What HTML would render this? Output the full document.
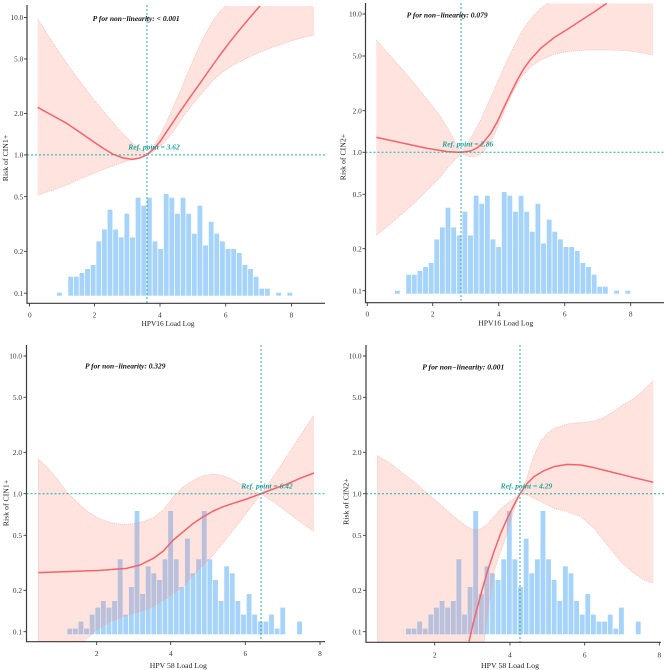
<!DOCTYPE html>
<html><head><meta charset="utf-8"><style>
html,body{margin:0;padding:0;background:#fff;}
svg{display:block;}
text{font-family:"Liberation Serif",serif;}
.tk{font-size:7.3px;fill:#333;}
.tt{font-size:7.8px;fill:#222;}
.pt{font-size:7.2px;font-weight:bold;font-style:italic;fill:#111;}
.rf{font-size:7.2px;font-weight:bold;font-style:italic;fill:#1fa39a;}
</style></head><body>
<svg width="669" height="670" viewBox="0 0 669 670" xmlns="http://www.w3.org/2000/svg">
<defs>
<g id="hA" fill="#a6d3fa">
<rect x="57.00" y="292.7" width="4.85" height="3.0"/>
<rect x="68.24" y="276.7" width="4.85" height="19.0"/>
<rect x="73.86" y="276.7" width="4.85" height="19.0"/>
<rect x="79.48" y="273.0" width="4.85" height="22.7"/>
<rect x="85.10" y="269.0" width="4.85" height="26.7"/>
<rect x="90.72" y="265.0" width="4.85" height="30.7"/>
<rect x="96.34" y="241.4" width="4.85" height="54.3"/>
<rect x="101.96" y="229.4" width="4.85" height="66.3"/>
<rect x="107.58" y="209.7" width="4.85" height="86.0"/>
<rect x="113.20" y="229.4" width="4.85" height="66.3"/>
<rect x="118.82" y="237.4" width="4.85" height="58.3"/>
<rect x="124.44" y="213.7" width="4.85" height="82.0"/>
<rect x="130.06" y="237.4" width="4.85" height="58.3"/>
<rect x="135.68" y="197.7" width="4.85" height="98.0"/>
<rect x="141.30" y="205.7" width="4.85" height="90.0"/>
<rect x="146.92" y="197.7" width="4.85" height="98.0"/>
<rect x="152.54" y="241.4" width="4.85" height="54.3"/>
<rect x="158.16" y="249.0" width="4.85" height="46.7"/>
<rect x="163.78" y="194.0" width="4.85" height="101.7"/>
<rect x="169.40" y="197.7" width="4.85" height="98.0"/>
<rect x="175.02" y="213.7" width="4.85" height="82.0"/>
<rect x="180.64" y="197.7" width="4.85" height="98.0"/>
<rect x="186.26" y="213.7" width="4.85" height="82.0"/>
<rect x="191.88" y="233.7" width="4.85" height="62.0"/>
<rect x="197.50" y="205.7" width="4.85" height="90.0"/>
<rect x="203.12" y="245.4" width="4.85" height="50.3"/>
<rect x="208.74" y="221.7" width="4.85" height="74.0"/>
<rect x="214.36" y="233.7" width="4.85" height="62.0"/>
<rect x="219.98" y="241.4" width="4.85" height="54.3"/>
<rect x="225.60" y="249.0" width="4.85" height="46.7"/>
<rect x="231.22" y="249.0" width="4.85" height="46.7"/>
<rect x="236.84" y="253.0" width="4.85" height="42.7"/>
<rect x="242.46" y="265.0" width="4.85" height="30.7"/>
<rect x="248.08" y="269.0" width="4.85" height="26.7"/>
<rect x="253.70" y="276.7" width="4.85" height="19.0"/>
<rect x="259.32" y="288.7" width="4.85" height="7.0"/>
<rect x="264.94" y="288.7" width="4.85" height="7.0"/>
<rect x="276.18" y="292.7" width="4.85" height="3.0"/>
<rect x="287.42" y="292.7" width="4.85" height="3.0"/>
</g>
<g id="hB" fill="#a6d3fa">
<rect x="67.30" y="628.6" width="4.85" height="5.7"/>
<rect x="72.91" y="628.6" width="4.85" height="5.7"/>
<rect x="78.51" y="621.6" width="4.85" height="12.7"/>
<rect x="84.12" y="628.6" width="4.85" height="5.7"/>
<rect x="89.72" y="614.6" width="4.85" height="19.7"/>
<rect x="95.33" y="607.6" width="4.85" height="26.7"/>
<rect x="100.93" y="601.0" width="4.85" height="33.3"/>
<rect x="106.54" y="607.6" width="4.85" height="26.7"/>
<rect x="112.14" y="601.0" width="4.85" height="33.3"/>
<rect x="117.75" y="559.3" width="4.85" height="75.0"/>
<rect x="123.35" y="614.6" width="4.85" height="19.7"/>
<rect x="128.96" y="587.0" width="4.85" height="47.3"/>
<rect x="134.56" y="511.0" width="4.85" height="123.3"/>
<rect x="140.17" y="594.0" width="4.85" height="40.3"/>
<rect x="145.77" y="566.3" width="4.85" height="68.0"/>
<rect x="151.38" y="573.3" width="4.85" height="61.0"/>
<rect x="156.98" y="580.0" width="4.85" height="54.3"/>
<rect x="162.59" y="559.3" width="4.85" height="75.0"/>
<rect x="168.19" y="511.0" width="4.85" height="123.3"/>
<rect x="173.80" y="559.3" width="4.85" height="75.0"/>
<rect x="179.40" y="587.0" width="4.85" height="47.3"/>
<rect x="185.01" y="538.6" width="4.85" height="95.7"/>
<rect x="190.61" y="573.3" width="4.85" height="61.0"/>
<rect x="196.22" y="559.3" width="4.85" height="75.0"/>
<rect x="201.82" y="511.0" width="4.85" height="123.3"/>
<rect x="207.43" y="559.3" width="4.85" height="75.0"/>
<rect x="213.03" y="580.0" width="4.85" height="54.3"/>
<rect x="218.64" y="601.0" width="4.85" height="33.3"/>
<rect x="224.24" y="566.3" width="4.85" height="68.0"/>
<rect x="229.85" y="573.3" width="4.85" height="61.0"/>
<rect x="235.45" y="601.0" width="4.85" height="33.3"/>
<rect x="241.06" y="614.6" width="4.85" height="19.7"/>
<rect x="246.66" y="594.0" width="4.85" height="40.3"/>
<rect x="252.27" y="614.6" width="4.85" height="19.7"/>
<rect x="257.87" y="621.6" width="4.85" height="12.7"/>
<rect x="263.48" y="621.6" width="4.85" height="12.7"/>
<rect x="269.08" y="614.6" width="4.85" height="19.7"/>
<rect x="274.69" y="628.6" width="4.85" height="5.7"/>
<rect x="280.29" y="607.6" width="4.85" height="26.7"/>
<rect x="297.11" y="621.6" width="4.85" height="12.7"/>
</g>
</defs>

<use href="#hA"/>
<use href="#hA" transform="translate(338,-2)"/>
<use href="#hB"/>
<use href="#hB" transform="translate(338.7,0)"/>

<g transform="translate(0,0) scale(0.333333)">
<path fill="#f9806f" fill-opacity="0.22" d="M113,58 L160,130 L200,190 L240,245 L280,297 L320,345 L360,392 L400,432 L441,462 L460,440 L480,405 L500,365 L520,320 L540,275 L560,225 L580,180 L600,135 L620,95 L640,60 L660,35 L676,18 L942,18 L942,105 L900,115 L860,127 L820,141 L780,157 L740,175 L700,195 L670,215 L640,240 L610,275 L580,310 L550,350 L520,395 L490,430 L460,455 L441,466 L400,478 L360,490 L320,505 L280,520 L240,537 L200,555 L160,570 L113,585 Z"/>
<g fill="none" stroke="#f3a49a" stroke-width="2" stroke-dasharray="3 3" stroke-opacity="0.8">
<path d="M113,58 L160,130 L200,190 L240,245 L280,297 L320,345 L360,392 L400,432 L441,462 L460,440 L480,405 L500,365 L520,320 L540,275 L560,225 L580,180 L600,135 L620,95 L640,60 L660,35 L676,18"/>
<path d="M113,585 L160,570 L200,555 L240,537 L280,520 L320,505 L360,490 L400,478 L441,466 L460,455 L490,430 L520,395 L550,350 L580,310 L610,275 L640,240 L670,215 L700,195 L740,175 L780,157 L820,141 L860,127 L900,115 L942,105"/>
</g>
<path fill="none" stroke="#f7626a" stroke-width="4.5" stroke-linejoin="round" d="M113,322 L160,348 L200,370 L240,397 L280,425 L310,445 L340,463 L370,474 L397,478 L420,474 L441,464 L460,448 L480,425 L500,395 L520,365 L540,335 L570,292 L600,250 L630,207 L660,165 L690,125 L720,88 L750,52 L780,18"/>
</g>

<g transform="translate(334,0) scale(0.333333)">
<path fill="#f9806f" fill-opacity="0.22" d="M127,120 L160,158 L200,202 L240,250 L280,298 L320,350 L350,400 L381,457 L400,430 L420,398 L440,360 L460,315 L480,270 L500,225 L520,180 L540,140 L560,100 L580,70 L600,45 L620,25 L640,10 L957,10 L957,165 L920,158 L880,152 L820,150 L760,150 L700,155 L660,163 L620,180 L590,200 L560,235 L530,290 L510,335 L490,385 L470,425 L450,455 L430,468 L410,470 L395,466 L381,460 L350,492 L320,530 L280,570 L240,610 L200,645 L160,680 L127,705 Z"/>
<g fill="none" stroke="#f3a49a" stroke-width="2" stroke-dasharray="3 3" stroke-opacity="0.8">
<path d="M127,120 L160,158 L200,202 L240,250 L280,298 L320,350 L350,400 L381,457 L400,430 L420,398 L440,360 L460,315 L480,270 L500,225 L520,180 L540,140 L560,100 L580,70 L600,45 L620,25 L640,10"/>
<path d="M127,705 L160,680 L200,645 L240,610 L280,570 L320,530 L350,492 L381,460 L395,466 L410,470 L430,468 L450,455 L470,425 L490,385 L510,335 L530,290 L560,235 L590,200 L620,180 L660,163 L700,155 L760,150 L820,150 L880,152 L920,158 L957,165"/>
</g>
<path fill="none" stroke="#f7626a" stroke-width="4.5" stroke-linejoin="round" d="M127,412 L200,428 L280,445 L340,455 L381,457 L410,453 L430,443 L450,425 L470,400 L490,365 L510,322 L530,280 L550,240 L570,205 L590,178 L620,145 L660,113 L700,88 L740,62 L780,36 L818,10"/>
</g>

<g transform="translate(0,335) scale(0.333333)">
<path fill="#f9806f" fill-opacity="0.22" d="M115,372 L140,395 L170,430 L200,470 L230,500 L260,528 L300,552 L340,565 L370,568 L400,566 L430,560 L460,548 L490,525 L520,485 L550,455 L580,436 L610,422 L640,417 L670,422 L700,435 L740,458 L783,477 L820,425 L860,365 L900,303 L942,240 L942,590 L900,560 L860,530 L820,500 L783,477 L750,520 L720,560 L680,610 L640,660 L600,700 L550,755 L500,790 L450,820 L400,835 L330,860 L290,885 L250,920 L115,920 Z"/>
<g fill="none" stroke="#f3a49a" stroke-width="2" stroke-dasharray="3 3" stroke-opacity="0.8">
<path d="M115,920 L115,372 L140,395 L170,430 L200,470 L230,500 L260,528 L300,552 L340,565 L370,568 L400,566 L430,560 L460,548 L490,525 L520,485 L550,455 L580,436 L610,422 L640,417 L670,422 L700,435 L740,458 L783,477 L820,425 L860,365 L900,303 L942,240"/>
<path d="M250,920 L290,885 L330,860 L400,835 L450,820 L500,790 L550,755 L600,700 L640,660 L680,610 L720,560 L750,520 L783,477 L820,500 L860,530 L900,560 L942,590"/>
</g>
<path fill="none" stroke="#f7626a" stroke-width="4.5" stroke-linejoin="round" d="M115,713 L200,710 L300,706 L380,700 L420,690 L460,670 L490,648 L520,615 L550,590 L580,565 L610,545 L640,528 L670,515 L700,505 L740,492 L783,476 L820,462 L860,448 L900,430 L942,414"/>
</g>

<g transform="translate(334,335) scale(0.333333)">
<path fill="#f9806f" fill-opacity="0.22" d="M130,362 L170,385 L200,410 L240,440 L280,475 L320,510 L360,545 L395,572 L420,585 L440,582 L460,568 L480,545 L500,522 L520,505 L540,490 L558,477 L575,440 L590,390 L605,350 L620,318 L640,295 L660,280 L700,267 L740,263 L780,258 L810,248 L840,228 L870,208 L900,190 L930,165 L958,137 L958,745 L930,735 L900,715 L860,680 L820,630 L780,580 L740,545 L700,530 L660,520 L620,500 L580,480 L558,477 L545,510 L515,609 L500,650 L480,710 L465,810 L450,920 L130,920 Z"/>
<g fill="none" stroke="#f3a49a" stroke-width="2" stroke-dasharray="3 3" stroke-opacity="0.8">
<path d="M130,920 L130,362 L170,385 L200,410 L240,440 L280,475 L320,510 L360,545 L395,572 L420,585 L440,582 L460,568 L480,545 L500,522 L520,505 L540,490 L558,477 L575,440 L590,390 L605,350 L620,318 L640,295 L660,280 L700,267 L740,263 L780,258 L810,248 L840,228 L870,208 L900,190 L930,165 L958,137"/>
<path d="M450,920 L465,810 L480,710 L500,650 L515,609 L545,510 L558,477 L580,480 L620,500 L660,520 L700,530 L740,545 L780,580 L820,630 L860,680 L900,715 L930,735 L958,745"/>
</g>
<path fill="none" stroke="#f7626a" stroke-width="4.5" stroke-linejoin="round" d="M405,920 L420,855 L440,780 L460,710 L480,650 L500,595 L520,550 L540,510 L558,476 L580,445 L600,425 L630,407 L660,395 L700,388 L740,390 L780,398 L820,408 L860,418 L900,428 L958,442"/>
</g>

<g stroke="#2aaba2" stroke-width="1" stroke-dasharray="2 2" fill="none">
<line x1="147" y1="5" x2="147" y2="303"/>
<line x1="27" y1="154.9" x2="326" y2="154.9"/>
<line x1="461" y1="3" x2="461" y2="302.5"/>
<line x1="365.5" y1="152.3" x2="665" y2="152.3"/>
<line x1="261" y1="345" x2="261" y2="641.5"/>
<line x1="26.5" y1="493.7" x2="326" y2="493.7"/>
<line x1="520" y1="345" x2="520" y2="642"/>
<line x1="366" y1="493.7" x2="665" y2="493.7"/>
</g>

<g stroke="#3a3a3a" stroke-width="1.2" fill="none">
<path d="M27,5 L27,303.3 L325,303.3"/>
<path d="M365.5,3 L365.5,302.7 L664,302.7"/>
<path d="M26.5,345 L26.5,641.7 L325,641.7"/>
<path d="M366,345 L366,642.3 L661,642.3"/>
</g>
<g stroke="#3a3a3a" stroke-width="0.9">
<path d="M24,17.5H27 M24,58.9H27 M24,113.4H27 M24,154.9H27 M24,196.7H27 M24,251.3H27 M24,293.2H27"/>
<path d="M29.5,303.3V306.5 M94.5,303.3V306.5 M160,303.3V306.5 M225.7,303.3V306.5 M291.5,303.3V306.5"/>
<path d="M362.5,14H365.5 M362.5,56H365.5 M362.5,110.7H365.5 M362.5,152.3H365.5 M362.5,194.3H365.5 M362.5,248.7H365.5 M362.5,290.7H365.5"/>
<path d="M367.3,302.7V306 M432.7,302.7V306 M498.7,302.7V306 M564.7,302.7V306 M630.7,302.7V306"/>
<path d="M23.5,356H26.5 M23.5,397.3H26.5 M23.5,452.3H26.5 M23.5,493.7H26.5 M23.5,535.3H26.5 M23.5,590.3H26.5 M23.5,631.7H26.5"/>
<path d="M96.7,641.7V645 M170.7,641.7V645 M245.3,641.7V645 M320,641.7V645"/>
<path d="M363,356H366 M363,397.3H366 M363,452.3H366 M363,493.7H366 M363,535.3H366 M363,590.3H366 M363,631.7H366"/>
<path d="M434.7,642.3V645.5 M510,642.3V645.5 M584.7,642.3V645.5 M659.3,642.3V645.5"/>
</g>

<g class="tk" text-anchor="end">
<text x="23.3" y="20.1">10.0</text>
<text x="23.3" y="61.5">5.0</text>
<text x="23.3" y="116">2.0</text>
<text x="23.3" y="157.5">1.0</text>
<text x="23.3" y="199.3">0.5</text>
<text x="23.3" y="253.9">0.2</text>
<text x="23.3" y="295.8">0.1</text>

<text x="361.8" y="16.6">10.0</text>
<text x="361.8" y="58.6">5.0</text>
<text x="361.8" y="113.3">2.0</text>
<text x="361.8" y="154.9">1.0</text>
<text x="361.8" y="196.9">0.5</text>
<text x="361.8" y="251.3">0.2</text>
<text x="361.8" y="293.3">0.1</text>

<text x="22" y="358.6">10.0</text>
<text x="22" y="399.9">5.0</text>
<text x="22" y="454.9">2.0</text>
<text x="22" y="496.3">1.0</text>
<text x="22" y="537.9">0.5</text>
<text x="22" y="592.9">0.2</text>
<text x="22" y="634.3">0.1</text>

<text x="361.5" y="358.6">10.0</text>
<text x="361.5" y="399.9">5.0</text>
<text x="361.5" y="454.9">2.0</text>
<text x="361.5" y="496.3">1.0</text>
<text x="361.5" y="537.9">0.5</text>
<text x="361.5" y="592.9">0.2</text>
<text x="361.5" y="634.3">0.1</text>
</g>
<g class="tk" text-anchor="middle">
<text x="29.8" y="317.5">0</text>
<text x="94.5" y="317.5">2</text>
<text x="160" y="317.5">4</text>
<text x="225.7" y="317.5">6</text>
<text x="291.5" y="317.5">8</text>

<text x="367.3" y="316.5">0</text>
<text x="432.7" y="316.5">2</text>
<text x="498.7" y="316.5">4</text>
<text x="564.7" y="316.5">6</text>
<text x="630.7" y="316.5">8</text>

<text x="96.7" y="656">2</text>
<text x="170.7" y="656">4</text>
<text x="245.3" y="656">6</text>
<text x="320" y="656">8</text>

<text x="434.7" y="657.5">2</text>
<text x="510" y="657.5">4</text>
<text x="584.7" y="657.5">6</text>
<text x="659.3" y="657.5">8</text>
</g>

<g class="tt" text-anchor="middle">
<text x="168" y="326" textLength="53" lengthAdjust="spacingAndGlyphs">HPV16 Load Log</text>
<text x="505.7" y="325.5" textLength="55" lengthAdjust="spacingAndGlyphs">HPV16 Load Log</text>
<text x="178.3" y="667.8" textLength="57" lengthAdjust="spacingAndGlyphs">HPV 58 Load Log</text>
<text x="510" y="667.8" textLength="58" lengthAdjust="spacingAndGlyphs">HPV 58 Load Log</text>
<text x="5.5" y="158" dy="0.35em" transform="rotate(-90 5.5 158)">Risk of CIN1+</text>
<text x="343" y="157" dy="0.35em" transform="rotate(-90 343 157)">Risk of CIN2+</text>
<text x="5.7" y="503" dy="0.35em" transform="rotate(-90 5.7 503)">Risk  of CIN1+</text>
<text x="345.7" y="501.7" dy="0.35em" transform="rotate(-90 345.7 501.7)">Risk of CIN2+</text>
</g>

<g class="pt">
<text x="92.7" y="20.8" textLength="87" lengthAdjust="spacingAndGlyphs">P for non−linearity: &lt; 0.001</text>
<text x="406.7" y="17.6" textLength="81" lengthAdjust="spacingAndGlyphs">P for non−linearity: 0.079</text>
<text x="85" y="368.3" textLength="80.5" lengthAdjust="spacingAndGlyphs">P for non−linearity: 0.329</text>
<text x="422.3" y="369.3" textLength="82" lengthAdjust="spacingAndGlyphs">P for non−linearity: 0.001</text>
</g>
<g class="rf">
<text x="128.3" y="149.3" textLength="51.5" lengthAdjust="spacingAndGlyphs">Ref. point = 3.62</text>
<text x="442.3" y="146.6" textLength="51" lengthAdjust="spacingAndGlyphs">Ref. point = 2.86</text>
<text x="241.3" y="488.6" textLength="51.4" lengthAdjust="spacingAndGlyphs">Ref. point = 6.42</text>
<text x="500.7" y="488.6" textLength="51.6" lengthAdjust="spacingAndGlyphs">Ref. point = 4.29</text>
</g>
</svg>
</body></html>
